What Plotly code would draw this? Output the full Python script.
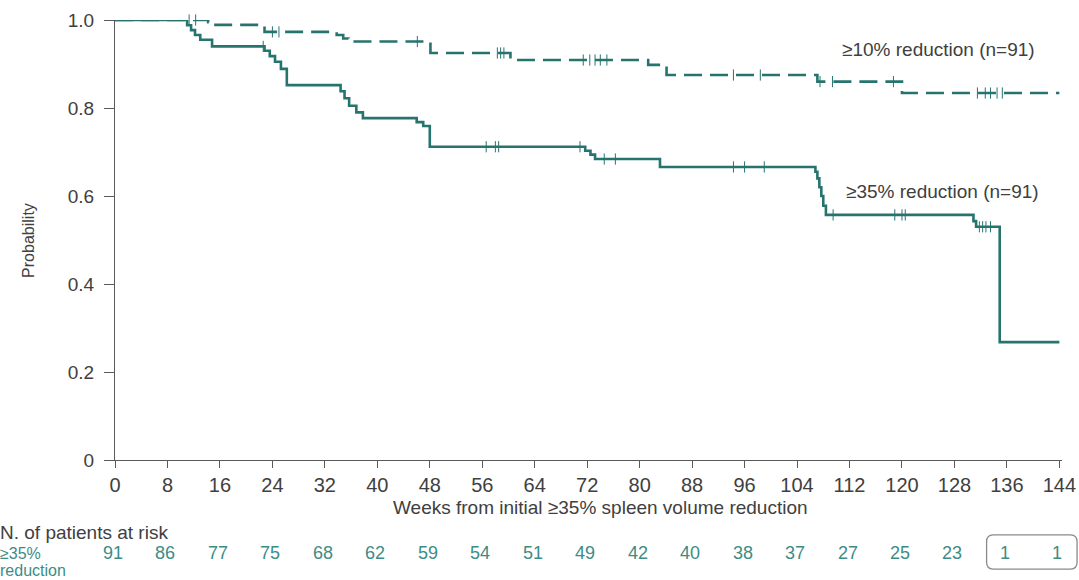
import plotly.graph_objects as go

# ---------------- data ----------------
# >=35% reduction KM curve (step function: time in weeks, survival probability)
t35 = [0, 11.0, 11.6, 12.2, 13.0, 14.8, 22.8, 23.6, 24.4, 25.3, 26.2, 34.4, 35.0, 35.7,
       36.8, 37.8, 46.0, 47.0, 48.0, 71.7, 72.5, 73.2, 83.1, 106.8, 107.1, 107.4,
       107.7, 108.0, 108.4, 130.9, 131.3, 134.9, 144.0]
s35 = [1.0, 0.988, 0.977, 0.966, 0.955, 0.940, 0.930, 0.918, 0.905, 0.889, 0.852, 0.838,
       0.822, 0.805, 0.790, 0.777, 0.768, 0.759, 0.712, 0.703, 0.694, 0.684, 0.666,
       0.655, 0.640, 0.620, 0.600, 0.578, 0.557, 0.543, 0.530, 0.268, 0.268]
c35_t = [22.6, 56.6, 58.0, 58.5, 70.9, 74.6, 76.3, 94.3, 96.0, 99.0, 109.5, 118.9,
         120.0, 120.5, 131.8, 132.3, 132.8, 133.5]
c35_s = [0.940, 0.712, 0.712, 0.712, 0.712, 0.684, 0.684, 0.666, 0.666, 0.666, 0.557,
         0.557, 0.557, 0.557, 0.530, 0.530, 0.530, 0.530]

# >=10% reduction KM curve
t10 = [0, 14.2, 15.1, 22.8, 33.8, 34.8, 35.6, 48.1, 60.3, 81.3, 84.1, 107.1, 120.0, 144.0]
s10 = [1.0, 0.995, 0.989, 0.973, 0.966, 0.958, 0.951, 0.925, 0.909, 0.898, 0.875, 0.860,
       0.834, 0.834]
c10_t = [11.3, 12.3, 24.0, 25.0, 46.1, 58.3, 58.8, 59.3, 71.4, 72.4, 73.2, 74.0, 75.0,
         94.3, 98.4, 107.5, 109.4, 118.7, 131.5, 132.7, 133.5, 134.5, 135.3]
c10_s = [1.0, 1.0, 0.973, 0.973, 0.951, 0.925, 0.925, 0.925, 0.909, 0.909, 0.909, 0.909,
         0.909, 0.875, 0.875, 0.860, 0.860, 0.860, 0.834, 0.834, 0.834, 0.834, 0.834]

x_ticks = [0, 8, 16, 24, 32, 40, 48, 56, 64, 72, 80, 88, 96, 104, 112, 120, 128, 136, 144]
y_ticks = [0, 0.2, 0.4, 0.6, 0.8, 1.0]
y_ticklabels = ["0", "0.2", "0.4", "0.6", "0.8", "1.0"]
at_risk = [91, 86, 77, 75, 68, 62, 59, 54, 51, 49, 42, 40, 38, 37, 27, 25, 23, 1, 1]

# ---------------- style ----------------
TEAL = "#27746f"
TEAL_LIGHT = "#3d8c86"
GREY = "#404040"
AX = "#5a5a5a"
FONT = "Liberation Sans, Arial, sans-serif"
XMAX = 144.4

fig = go.Figure()

fig.add_trace(go.Scatter(x=t10, y=s10, mode="lines", line=dict(shape="hv", color=TEAL, width=2.6, dash="18px,8px"),
                         cliponaxis=False, showlegend=False, hoverinfo="skip"))
fig.add_trace(go.Scatter(x=c10_t, y=c10_s, mode="markers",
                         marker=dict(symbol="line-ns", size=8, line=dict(color=TEAL, width=1)),
                         cliponaxis=False, showlegend=False, hoverinfo="skip"))
fig.add_trace(go.Scatter(x=t35, y=s35, mode="lines", line=dict(shape="hv", color=TEAL, width=2.6),
                         cliponaxis=False, showlegend=False, hoverinfo="skip"))
fig.add_trace(go.Scatter(x=c35_t, y=c35_s, mode="markers",
                         marker=dict(symbol="line-ns", size=8, line=dict(color=TEAL, width=1)),
                         cliponaxis=False, showlegend=False, hoverinfo="skip"))

annotations = [
    dict(x=125.6, y=0.932, xref="x", yref="y", text="≥10% reduction (n=91)", showarrow=False,
         font=dict(family=FONT, size=19, color=GREY), xanchor="center", yanchor="middle"),
    dict(x=126.2, y=0.610, xref="x", yref="y", text="≥35% reduction (n=91)", showarrow=False,
         font=dict(family=FONT, size=19, color=GREY), xanchor="center", yanchor="middle"),
    dict(x=74.1, y=-0.109, xref="x", yref="paper", text="Weeks from initial ≥35% spleen volume reduction",
         showarrow=False, font=dict(family=FONT, size=19, color=GREY), xanchor="center", yanchor="middle"),
    dict(x=-0.092, y=0.5, xref="paper", yref="paper", text="Probability", textangle=-90, showarrow=False,
         font=dict(family=FONT, size=16, color=GREY), xanchor="center", yanchor="middle"),
    dict(x=-0.1235, y=-0.165, xref="paper", yref="paper", text="N. of patients at risk", showarrow=False,
         font=dict(family=FONT, size=19, color=GREY), xanchor="left", yanchor="middle"),
    dict(x=-0.1235, y=-0.212, xref="paper", yref="paper", text="≥35%", showarrow=False,
         font=dict(family=FONT, size=16, color=TEAL_LIGHT), xanchor="left", yanchor="middle"),
    dict(x=-0.1235, y=-0.252, xref="paper", yref="paper", text="reduction", showarrow=False,
         font=dict(family=FONT, size=16, color=TEAL_LIGHT), xanchor="left", yanchor="middle"),
]
for xv, n in zip(x_ticks, at_risk):
    annotations.append(dict(x=xv, y=-0.211, xref="x", yref="paper", text=str(n), showarrow=False, xshift=-2,
                            font=dict(family=FONT, size=18, color=TEAL_LIGHT), xanchor="center", yanchor="middle"))

# rounded box around last two at-risk numbers (paper coordinates derived from tick values)
x0 = (x_ticks[-2] - 3.1) / XMAX
x1 = (x_ticks[-1] + 2.7) / XMAX
y0, y1 = -0.248, -0.170
rx, ry = 0.007, 0.016
path = (f"M {x0+rx},{y1} L {x1-rx},{y1} Q {x1},{y1} {x1},{y1-ry} L {x1},{y0+ry} "
        f"Q {x1},{y0} {x1-rx},{y0} L {x0+rx},{y0} Q {x0},{y0} {x0},{y0+ry} "
        f"L {x0},{y1-ry} Q {x0},{y1} {x0+rx},{y1} Z")

fig.update_layout(
    width=1079, height=580,
    margin=dict(l=115, r=17, t=20, b=120),
    paper_bgcolor="white", plot_bgcolor="white",
    annotations=annotations,
    shapes=[dict(type="path", path=path, xref="paper", yref="paper", line=dict(color="#8a8a8a", width=1.3))],
    xaxis=dict(range=[0, XMAX], tickvals=x_ticks, ticks="outside", ticklen=7, tickcolor=AX, tickwidth=1,
               showline=True, linecolor=AX, linewidth=1.3, showgrid=False, zeroline=False, automargin=False,
               tickfont=dict(family=FONT, size=20, color=GREY)),
    yaxis=dict(range=[0, 1.0], tickvals=y_ticks, ticktext=y_ticklabels, ticks="outside", ticklen=10,
               tickcolor=AX, tickwidth=1, showline=True, linecolor=AX, linewidth=1.3, showgrid=False,
               zeroline=False, automargin=False, ticklabelstandoff=6,
               tickfont=dict(family=FONT, size=19, color=GREY)),
)

fig.write_html("out.html")
